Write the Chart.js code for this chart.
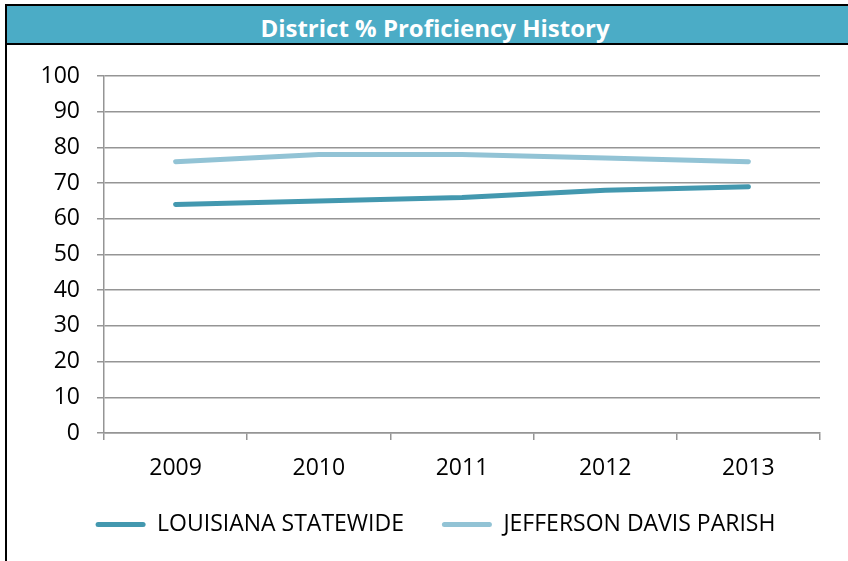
<!DOCTYPE html>
<html>
<head>
<meta charset="utf-8">
<script src="https://cdn.jsdelivr.net/npm/chart.js@4.4.1/dist/chart.umd.min.js"></script>
<style>
  body { margin: 0; width: 848px; height: 561px; overflow: hidden; background: #fff; position: relative; }
  #frame { position: absolute; left: 5px; top: 4px; width: 856px; height: 600px; border: 2px solid #000; }
  #title { height: 34px; padding-top: 3px; background: #4BACC6; border-bottom: 2px solid #000; color: #fff;
           font: bold 24px "Open Sans"; text-align: center; line-height: 37px; }
  #wrap { position: absolute; left: 0; top: 0; width: 848px; height: 561px; }
</style>
</head>
<body>
<div id="frame"><div id="title">District % Proficiency History</div></div>
<div id="wrap"><canvas id="chart" width="848" height="561"></canvas></div>
<script>
const years = ['2009', '2010', '2011', '2012', '2013'];
const statewide = [64, 65, 66, 68, 69];
const parish = [76, 78, 78, 77, 76];
const seriesNames = ['LOUISIANA STATEWIDE', 'JEFFERSON DAVIS PARISH'];
const seriesColors = ['#4398AF', '#92C3D5'];

const gridColor = '#959595';
Chart.defaults.font.family = '"Open Sans", sans-serif';
Chart.defaults.font.size = 23;
Chart.defaults.color = '#000';

// nudge the legend a bit right so it sits where the original one does
const legendShift = {
  id: 'legendShift',
  afterLayout(chart) {
    chart.legend.left += 5.5;
    chart.legend.right += 5.5;
  },
};

const ctx = document.getElementById('chart').getContext('2d');
const chart = new Chart(ctx, {
  type: 'line',
  data: {
    labels: years,
    datasets: [statewide, parish].map((vals, i) => ({
      label: seriesNames[i],
      data: vals,
      borderColor: seriesColors[i],
      backgroundColor: seriesColors[i],
      borderWidth: 5,
      borderCapStyle: 'round',
      borderJoinStyle: 'round',
      pointRadius: 0,
      tension: 0,
    })),
  },
  plugins: [legendShift],
  options: {
    responsive: false,
    animation: false,
    layout: { padding: { left: 40, top: 76, right: 28, bottom: 15 } },
    plugins: {
      title: { display: false },
      tooltip: { enabled: false },
      legend: {
        position: 'bottom',
        labels: {
          boxWidth: 50,
          boxHeight: 5,
          padding: 20,
          // wider gap after the first entry, like the original legend
          generateLabels: (c) =>
            Chart.defaults.plugins.legend.labels.generateLabels(c).map((l, i) => {
              l.lineWidth = 0;
              l.borderRadius = 2.5;
              if (i === 0) l.text += '   ';
              return l;
            }),
        },
      },
    },
    scales: {
      x: {
        offset: true,
        grid: { offset: true, drawOnChartArea: false, drawTicks: true, tickLength: 7, color: gridColor, lineWidth: 1.5 },
        border: { color: gridColor, width: 1.5 },
        ticks: { padding: 15 },
        afterFit: (s) => { s.height = 60; },
      },
      y: {
        min: 0,
        max: 100,
        ticks: { stepSize: 10, padding: 17 },
        grid: { tickLength: 7, color: gridColor, lineWidth: 1.5 },
        border: { color: gridColor, width: 1.5 },
        afterFit: (s) => { s.width = 64; },
      },
    },
  },
});
</script>
</body>
</html>
